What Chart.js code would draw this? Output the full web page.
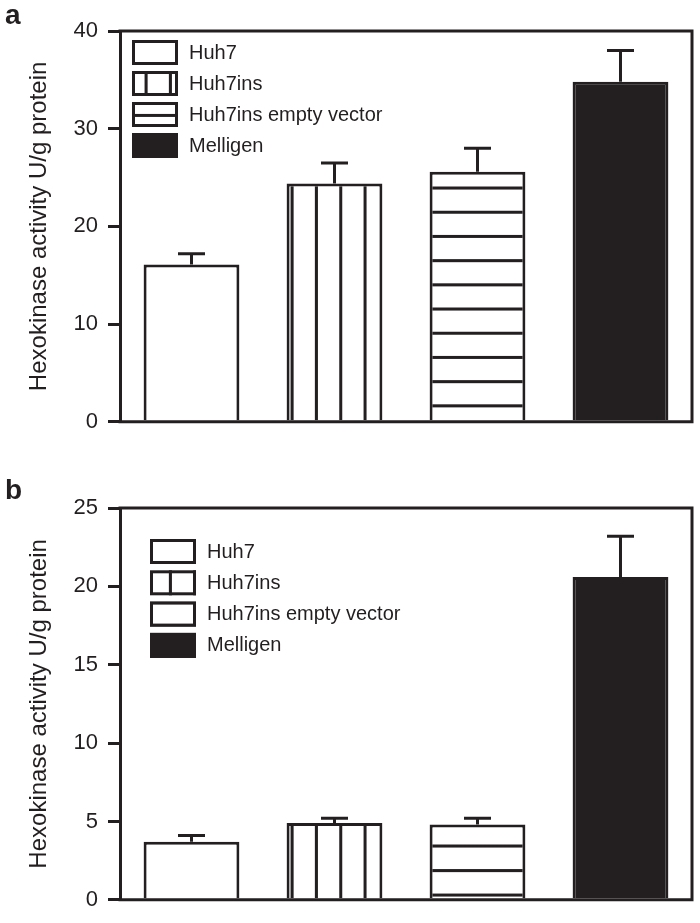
<!DOCTYPE html>
<html lang="en">
<head>
<meta charset="UTF-8">
<title>Hexokinase activity</title>
<script src="https://cdn.jsdelivr.net/npm/chart.js"></script>
<style>
    body {
        margin: 0;
        background: #fff;
        font-family: "Liberation Sans", Arial, Helvetica, sans-serif;
    }
    .wrap {
        position: relative;
        width: 700px;
        height: 923px;
    }
    .panel {
        position: absolute;
        left: 0;
        width: 700px;
    }
    .tag {
        position: absolute;
        left: 5px;
        font-size: 28px;
        line-height: 1;
        font-weight: bold;
        color: #231f20;
    }
</style>
</head>
<body>
<div class="wrap">
    <div class="panel" style="top:0;height:445px"><canvas id="chartA"></canvas></div>
    <div class="panel" style="top:470px;height:453px"><canvas id="chartB"></canvas></div>
    <div class="tag" style="top:1px">a</div>
    <div class="tag" style="top:476px">b</div>
</div>

<script>
    // values
    const categories = ['Huh7', 'Huh7ins', 'Huh7ins empty vector', 'Melligen'];
    const meanA = [16.1, 24.4, 25.6, 34.8];
    const semA = [1.1, 2.1, 2.4, 3.2];
    const meanB = [3.7, 4.9, 4.8, 20.6];
    const semB = [0.4, 0.3, 0.4, 2.6];
    const ticksA = [0, 10, 20, 30, 40];
    const ticksB = [0, 5, 10, 15, 20, 25];
    const yTitle = 'Hexokinase activity U/g protein';

    const INK = '#231f20';
    const FONT = '"Liberation Sans", Arial, Helvetica, sans-serif';

    // striped fill, lines 3px wide
    function hatch(vertical, period, offset) {
        const c = document.createElement('canvas');
        c.width = 24;
        c.height = 24;
        const g = c.getContext('2d');
        g.fillStyle = '#fff';
        g.fillRect(0, 0, 24, 24);
        g.fillStyle = INK;
        if (vertical) g.fillRect(0, 0, 3, 24);
        else g.fillRect(0, 0, 24, 3);
        const p = g.createPattern(c, 'repeat');
        const s = period / 24;
        p.setTransform(vertical
            ? new DOMMatrix([s, 0, 0, 1, offset, 0])
            : new DOMMatrix([1, 0, 0, s, 0, offset]));
        return p;
    }

    const errorBars = {
        id: 'errorBars',
        afterDatasetsDraw(chart) {
            const ctx = chart.ctx;
            const y = chart.scales.y;
            const ds = chart.data.datasets[0];
            ctx.save();
            ctx.strokeStyle = INK;
            ctx.lineWidth = 3;
            chart.getDatasetMeta(0).data.forEach((bar, i) => {
                const top = y.getPixelForValue(ds.data[i] + ds.sem[i]);
                ctx.beginPath();
                ctx.moveTo(bar.x, bar.y);
                ctx.lineTo(bar.x, top);
                ctx.moveTo(bar.x - 13.5, top);
                ctx.lineTo(bar.x + 13.5, top);
                ctx.stroke();
            });
            ctx.restore();
        }
    };

    // top, right and bottom edges of the box
    const frame = {
        id: 'frame',
        afterDatasetsDraw(chart) {
            const {ctx, chartArea: a} = chart;
            ctx.save();
            ctx.strokeStyle = INK;
            ctx.lineWidth = 3;
            ctx.lineCap = 'square';
            ctx.beginPath();
            ctx.moveTo(a.left, a.top);
            ctx.lineTo(a.right, a.top);
            ctx.lineTo(a.right, a.bottom);
            ctx.lineTo(a.left, a.bottom);
            ctx.stroke();
            ctx.restore();
        }
    };

    const boxLegend = {
        id: 'boxLegend',
        afterDraw(chart, args, opts) {
            const {ctx, chartArea: a} = chart;
            const ds = chart.data.datasets[0];
            ctx.save();
            ctx.font = '20px ' + FONT;
            ctx.textBaseline = 'middle';
            chart.data.labels.forEach((label, i) => {
                const x = a.left + opts.dx;
                const y = a.top + opts.dy + i * opts.step;
                ctx.fillStyle = ds.backgroundColor[i];
                ctx.fillRect(x, y, 46, 25);
                ctx.strokeStyle = INK;
                ctx.lineWidth = 3;
                ctx.strokeRect(x + 1.5, y + 1.5, 43, 22);
                ctx.fillStyle = INK;
                ctx.fillText(label, x + 57, y + 13);
            });
            ctx.restore();
        }
    };

    function makeChart(id, means, sems, ticks, pad, legendPos, hOffset, hPeriod) {
        const fills = ['#ffffff', hatch(true, 24.33, 22.9), hatch(false, hPeriod, hOffset), INK];
        return new Chart(document.getElementById(id), {
            type: 'bar',
            data: {
                labels: categories,
                datasets: [{
                    data: means,
                    sem: sems,
                    backgroundColor: fills,
                    borderColor: INK,
                    borderWidth: 3,
                    barPercentage: 0.67,
                    categoryPercentage: 1
                }]
            },
            options: {
                responsive: true,
                maintainAspectRatio: false,
                animation: false,
                layout: {padding: pad},
                plugins: {
                    legend: {display: false},
                    tooltip: {enabled: false},
                    boxLegend: legendPos
                },
                scales: {
                    x: {display: false},
                    y: {
                        min: ticks[0],
                        max: ticks[ticks.length - 1],
                        afterFit: s => { s.width = 120; },
                        ticks: {
                            stepSize: ticks[1] - ticks[0],
                            color: INK,
                            padding: 10,
                            font: {family: FONT, size: 22}
                        },
                        grid: {
                            drawOnChartArea: false,
                            drawTicks: true,
                            tickLength: 12,
                            lineWidth: 3,
                            color: INK
                        },
                        border: {display: true, width: 3, color: INK},
                        title: {
                            display: true,
                            text: yTitle,
                            color: INK,
                            padding: {top: 25, bottom: 0},
                            font: {family: FONT, size: 24}
                        }
                    }
                }
            },
            plugins: [errorBars, frame, boxLegend]
        });
    }

    makeChart('chartA', meanA, semA, ticksA,
        {top: 31, right: 8, bottom: 16, left: 0},
        {dx: 12, dy: 9, step: 31}, 17.1, 24.2);
    makeChart('chartB', meanB, semB, ticksB,
        {top: 38, right: 8, bottom: 15, left: 0},
        {dx: 30, dy: 31, step: 31.3}, 7.0, 24.5);
</script>
</body>
</html>
